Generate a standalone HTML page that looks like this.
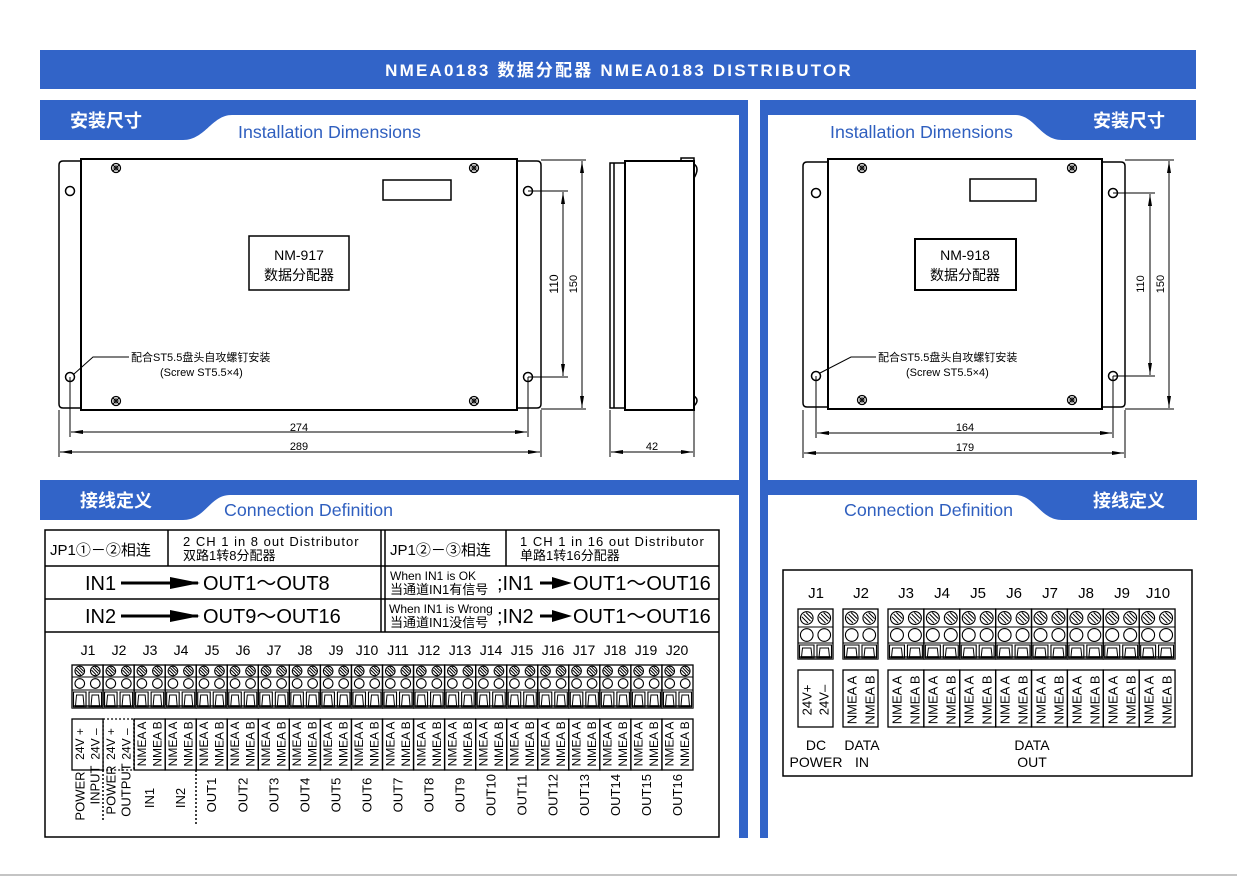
<!DOCTYPE html>
<html><head><meta charset="utf-8">
<style>
html,body{margin:0;padding:0;background:#fff;}
svg{display:block;font-family:"Liberation Sans","Noto Sans CJK SC",sans-serif;}
.w{fill:#fff;font-weight:bold;}
.bl{fill:#2f5fbf;}
.r{text-anchor:middle;dominant-baseline:central;}
.t12{font-size:12px;}
.ln{stroke:#000;fill:none;}
</style></head><body>
<svg id="s" width="1237" height="877" viewBox="0 0 1237 877" xmlns="http://www.w3.org/2000/svg">
<defs>
<marker id="ar" markerWidth="12" markerHeight="6" refX="12" refY="3" orient="auto-start-reverse" markerUnits="userSpaceOnUse"><path d="M0,1 L12,3 L0,5 Z" fill="#000"/></marker>
</defs>
<!-- header -->
<rect x="40" y="50" width="1156" height="39" fill="#3264c8"/>
<text x="619" y="76" class="w" font-size="17" text-anchor="middle" letter-spacing="2.2">NMEA0183 数据分配器  NMEA0183 DISTRIBUTOR</text>

<!-- frames -->
<g fill="#3264c8">
<path d="M40,100 H748 V115 H232 C212,115 205,140 183,140 H40 Z"/>
<rect x="739" y="100" width="9" height="738"/>
<path d="M760,100 H1196 V140 H1062 C1040,140 1035,115 1015,115 H760 Z"/>
<rect x="760" y="100" width="8" height="738"/>
<path d="M40,480 H748 V495 H230 C210,495 205,520 183,520 H40 Z"/>
<path d="M760,480 H1197 V520 H1062 C1040,520 1035,495 1015,495 H760 Z"/>
</g>
<text x="70" y="127" class="w" font-size="18">安装尺寸</text>
<text x="1093" y="127" class="w" font-size="18">安装尺寸</text>
<text x="80" y="507" class="w" font-size="18">接线定义</text>
<text x="1093" y="507" class="w" font-size="18">接线定义</text>
<text x="238" y="138" class="bl" font-size="17.8">Installation  Dimensions</text>
<text x="830" y="138" class="bl" font-size="17.8">Installation  Dimensions</text>
<text x="224" y="516" class="bl" font-size="17.8">Connection  Definition</text>
<text x="844" y="516" class="bl" font-size="17.8">Connection  Definition</text>

<!-- left device -->
<g class="ln" stroke-width="1.5">
<path d="M81,161 H63 Q59,161 59,165 V404 Q59,408 63,408 H81"/>
<rect x="81" y="159" width="436" height="251" stroke-width="2"/>
<path d="M517,161 H537 Q541,161 541,165 V404 Q541,408 537,408 H517"/>
<rect x="383" y="180" width="68" height="20"/>
<rect x="249" y="236" width="100" height="54"/>
<circle cx="70" cy="191" r="4.5"/><circle cx="70" cy="377" r="4.5"/>
<circle cx="528" cy="191" r="4.5"/><circle cx="528" cy="377" r="4.5"/>
</g>
<text x="299" y="260" text-anchor="middle" font-size="14">NM-917</text>
<text x="299" y="280" text-anchor="middle" font-size="14">数据分配器</text>
<g class="ln" stroke-width="1">
<line x1="528" y1="191" x2="568" y2="191"/><line x1="528" y1="377" x2="568" y2="377"/>
<line x1="563" y1="192" x2="563" y2="376" marker-start="url(#ar)" marker-end="url(#ar)"/>
<line x1="541" y1="160" x2="586" y2="160"/><line x1="541" y1="409" x2="586" y2="409"/>
<line x1="582" y1="161" x2="582" y2="408" marker-start="url(#ar)" marker-end="url(#ar)"/>
<line x1="70" y1="377" x2="70" y2="437"/><line x1="528" y1="377" x2="528" y2="437"/>
<line x1="71" y1="432" x2="527" y2="432" marker-start="url(#ar)" marker-end="url(#ar)"/>
<line x1="59" y1="410" x2="59" y2="457"/><line x1="541" y1="410" x2="541" y2="457"/>
<line x1="60" y1="452" x2="540" y2="452" marker-start="url(#ar)" marker-end="url(#ar)"/>
<path d="M74,374 L93,357 H129"/>
</g>
<text x="558" y="284" class="t12" font-size="11" transform="rotate(-90 558 284)" text-anchor="middle">110</text>
<text x="577" y="284" font-size="11" transform="rotate(-90 577 284)" text-anchor="middle">150</text>
<text x="299" y="431" font-size="11" text-anchor="middle">274</text>
<text x="299" y="450" font-size="11" text-anchor="middle">289</text>
<text x="131" y="361" font-size="11">配合ST5.5盘头自攻螺钉安装</text>
<text x="160" y="376" font-size="11">(Screw ST5.5×4)</text>

<!-- side view -->
<g class="ln" stroke-width="1.5">
<rect x="610" y="163" width="15" height="245"/>
<line x1="614" y1="163" x2="614" y2="408"/>
<rect x="625" y="161" width="69" height="249" stroke-width="2"/>
<path d="M681,161 V158 H694 V161"/>
<path d="M694,164 Q700,168 694,178"/><path d="M694,396 Q700,400 694,406"/>
</g>
<g class="ln">
<line x1="610" y1="410" x2="610" y2="457"/><line x1="694" y1="410" x2="694" y2="457"/>
<line x1="611" y1="452" x2="693" y2="452" marker-start="url(#ar)" marker-end="url(#ar)"/>
</g>
<text x="652" y="450" font-size="11" text-anchor="middle">42</text>

<!-- right device -->
<g class="ln" stroke-width="1.5">
<path d="M828,162 H807 Q803,162 803,166 V403 Q803,407 807,407 H828"/>
<rect x="828" y="159" width="274" height="250" stroke-width="2"/>
<path d="M1102,162 H1121 Q1125,162 1125,166 V403 Q1125,407 1121,407 H1102"/>
<rect x="970" y="179" width="66" height="22"/>
<rect x="915" y="239" width="101" height="51" stroke-width="2"/>
<circle cx="816" cy="193" r="4.5"/><circle cx="816" cy="376" r="4.5"/>
<circle cx="1113" cy="193" r="4.5"/><circle cx="1113" cy="376" r="4.5"/>
</g>
<text x="965" y="260" text-anchor="middle" font-size="14">NM-918</text>
<text x="965" y="280" text-anchor="middle" font-size="14">数据分配器</text>
<g class="ln" stroke-width="1">
<line x1="1113" y1="193" x2="1155" y2="193"/><line x1="1113" y1="376" x2="1155" y2="376"/>
<line x1="1150" y1="194" x2="1150" y2="375" marker-start="url(#ar)" marker-end="url(#ar)"/>
<line x1="1125" y1="160" x2="1174" y2="160"/><line x1="1125" y1="409" x2="1174" y2="409"/>
<line x1="1169" y1="161" x2="1169" y2="408" marker-start="url(#ar)" marker-end="url(#ar)"/>
<line x1="816" y1="376" x2="816" y2="438"/><line x1="1113" y1="376" x2="1113" y2="438"/>
<line x1="817" y1="433" x2="1112" y2="433" marker-start="url(#ar)" marker-end="url(#ar)"/>
<line x1="803" y1="410" x2="803" y2="458"/><line x1="1125" y1="410" x2="1125" y2="458"/>
<line x1="804" y1="453" x2="1124" y2="453" marker-start="url(#ar)" marker-end="url(#ar)"/>
<path d="M820,373 L851,357 H876"/>
</g>
<text x="1144" y="284" font-size="11" transform="rotate(-90 1144 284)" text-anchor="middle">110</text>
<text x="1164" y="284" font-size="11" transform="rotate(-90 1164 284)" text-anchor="middle">150</text>
<text x="965" y="431" font-size="11" text-anchor="middle">164</text>
<text x="965" y="451" font-size="11" text-anchor="middle">179</text>
<text x="878" y="361" font-size="11">配合ST5.5盘头自攻螺钉安装</text>
<text x="906" y="376" font-size="11">(Screw ST5.5×4)</text>

<g id="screws"></g>

<!-- left connection table -->
<g class="ln" stroke-width="1.5">
<rect x="45" y="530" width="674" height="307"/>
<line x1="45" y1="566" x2="719" y2="566"/>
<line x1="45" y1="599" x2="719" y2="599"/>
<line x1="45" y1="632" x2="719" y2="632"/>
<line x1="381" y1="530" x2="381" y2="632"/><line x1="385" y1="530" x2="385" y2="632"/>
<line x1="168" y1="530" x2="168" y2="566"/>
<line x1="506" y1="530" x2="506" y2="566"/>
</g>
<text x="50" y="555" font-size="15">JP1①－②相连</text>
<text x="183" y="546" font-size="13" letter-spacing="1">2 CH  1  in  8  out  Distributor</text>
<text x="183" y="560" font-size="13">双路1转8分配器</text>
<text x="85" y="590" font-size="20">IN1</text>
<text x="203" y="590" font-size="20">OUT1～OUT8</text>
<text x="85" y="623" font-size="20">IN2</text>
<text x="203" y="623" font-size="20">OUT9～OUT16</text>
<line x1="121" y1="583" x2="198" y2="583" stroke="#000" stroke-width="3"/>
<path d="M170,577 L200,583 L170,589 Z"/>
<line x1="121" y1="616" x2="198" y2="616" stroke="#000" stroke-width="3"/>
<path d="M170,610 L200,616 L170,622 Z"/>
<text x="390" y="555" font-size="15">JP1②－③相连</text>
<text x="520" y="546" font-size="13" letter-spacing="1">1 CH  1  in  16  out  Distributor</text>
<text x="520" y="560" font-size="13">单路1转16分配器</text>
<text x="390" y="580" font-size="12">When  IN1  is  OK</text>
<text x="390" y="594" font-size="13">当通道IN1有信号</text>
<text x="497" y="590" font-size="20">;IN1</text>
<text x="573" y="590" font-size="20">OUT1～OUT16</text>
<line x1="540" y1="583" x2="562" y2="583" stroke="#000" stroke-width="3"/>
<path d="M552,577 L572,583 L552,589 Z"/>
<text x="389" y="613" font-size="12">When IN1 is Wrong</text>
<text x="390" y="627" font-size="13">当通道IN1没信号</text>
<text x="497" y="623" font-size="20">;IN2</text>
<text x="573" y="623" font-size="20">OUT1～OUT16</text>
<line x1="540" y1="616" x2="562" y2="616" stroke="#000" stroke-width="3"/>
<path d="M552,610 L572,616 L552,622 Z"/>

<g font-size="14" text-anchor="middle">
<text x="88" y="655">J1</text><text x="119" y="655">J2</text><text x="150" y="655">J3</text><text x="181" y="655">J4</text><text x="212" y="655">J5</text><text x="243" y="655">J6</text><text x="274" y="655">J7</text><text x="305" y="655">J8</text><text x="336" y="655">J9</text><text x="367" y="655">J10</text><text x="398" y="655">J11</text><text x="429" y="655">J12</text><text x="460" y="655">J13</text><text x="491" y="655">J14</text><text x="522" y="655">J15</text><text x="553" y="655">J16</text><text x="584" y="655">J17</text><text x="615" y="655">J18</text><text x="646" y="655">J19</text><text x="677" y="655">J20</text>
</g>
<g id="lt"></g>
<g font-size="12" class="r" id="llab">
<text transform="translate(79.8,744) rotate(-90)">24V +</text>
<text transform="translate(95.3,744) rotate(-90)">24V –</text>
<text transform="translate(110.8,744) rotate(-90)">24V +</text>
<text transform="translate(126.3,744) rotate(-90)">24V –</text>
<text transform="translate(141.9,744) rotate(-90)">NMEA A</text><text transform="translate(157.4,744) rotate(-90)">NMEA B</text>
<text transform="translate(172.9,744) rotate(-90)">NMEA A</text><text transform="translate(188.4,744) rotate(-90)">NMEA B</text>
<text transform="translate(204.0,744) rotate(-90)">NMEA A</text><text transform="translate(219.5,744) rotate(-90)">NMEA B</text>
<text transform="translate(235.0,744) rotate(-90)">NMEA A</text><text transform="translate(250.5,744) rotate(-90)">NMEA B</text>
<text transform="translate(266.1,744) rotate(-90)">NMEA A</text><text transform="translate(281.6,744) rotate(-90)">NMEA B</text>
<text transform="translate(297.1,744) rotate(-90)">NMEA A</text><text transform="translate(312.6,744) rotate(-90)">NMEA B</text>
<text transform="translate(328.1,744) rotate(-90)">NMEA A</text><text transform="translate(343.7,744) rotate(-90)">NMEA B</text>
<text transform="translate(359.2,744) rotate(-90)">NMEA A</text><text transform="translate(374.7,744) rotate(-90)">NMEA B</text>
<text transform="translate(390.3,744) rotate(-90)">NMEA A</text><text transform="translate(405.8,744) rotate(-90)">NMEA B</text>
<text transform="translate(421.3,744) rotate(-90)">NMEA A</text><text transform="translate(436.8,744) rotate(-90)">NMEA B</text>
<text transform="translate(452.3,744) rotate(-90)">NMEA A</text><text transform="translate(467.9,744) rotate(-90)">NMEA B</text>
<text transform="translate(483.4,744) rotate(-90)">NMEA A</text><text transform="translate(498.9,744) rotate(-90)">NMEA B</text>
<text transform="translate(514.4,744) rotate(-90)">NMEA A</text><text transform="translate(530.0,744) rotate(-90)">NMEA B</text>
<text transform="translate(545.5,744) rotate(-90)">NMEA A</text><text transform="translate(561.0,744) rotate(-90)">NMEA B</text>
<text transform="translate(576.5,744) rotate(-90)">NMEA A</text><text transform="translate(592.1,744) rotate(-90)">NMEA B</text>
<text transform="translate(607.6,744) rotate(-90)">NMEA A</text><text transform="translate(623.1,744) rotate(-90)">NMEA B</text>
<text transform="translate(638.6,744) rotate(-90)">NMEA A</text><text transform="translate(654.1,744) rotate(-90)">NMEA B</text>
<text transform="translate(669.7,744) rotate(-90)">NMEA A</text><text transform="translate(685.2,744) rotate(-90)">NMEA B</text>
</g>
<g font-size="13" class="r">
<text transform="translate(80,796) rotate(-90)">POWER</text>
<text transform="translate(95,785) rotate(-90)">INPUT</text>
<text transform="translate(111,790) rotate(-90)">POWER</text>
<text transform="translate(126,790) rotate(-90)">OUTPUT</text>
<text transform="translate(149.6,798) rotate(-90)">IN1</text>
<text transform="translate(180.7,798) rotate(-90)">IN2</text>
<text transform="translate(211.7,795) rotate(-90)">OUT1</text>
<text transform="translate(242.8,795) rotate(-90)">OUT2</text>
<text transform="translate(273.8,795) rotate(-90)">OUT3</text>
<text transform="translate(304.8,795) rotate(-90)">OUT4</text>
<text transform="translate(335.9,795) rotate(-90)">OUT5</text>
<text transform="translate(366.9,795) rotate(-90)">OUT6</text>
<text transform="translate(398.0,795) rotate(-90)">OUT7</text>
<text transform="translate(429.0,795) rotate(-90)">OUT8</text>
<text transform="translate(460.1,795) rotate(-90)">OUT9</text>
<text transform="translate(491.1,795) rotate(-90)">OUT10</text>
<text transform="translate(522.2,795) rotate(-90)">OUT11</text>
<text transform="translate(553.2,795) rotate(-90)">OUT12</text>
<text transform="translate(584.3,795) rotate(-90)">OUT13</text>
<text transform="translate(615.3,795) rotate(-90)">OUT14</text>
<text transform="translate(646.4,795) rotate(-90)">OUT15</text>
<text transform="translate(677.4,795) rotate(-90)">OUT16</text>
</g>
<g stroke="#000" stroke-width="1.5" stroke-dasharray="2,2">
<line x1="103" y1="770" x2="103" y2="822"/>
<line x1="134" y1="719" x2="134" y2="770"/>
<line x1="196" y1="770" x2="196" y2="825"/>
</g>

<!-- right connection table -->
<rect x="783" y="570" width="409" height="206" class="ln" stroke-width="1.5"/>
<g font-size="15" text-anchor="middle">
<text x="816" y="598">J1</text><text x="861" y="598">J2</text><text x="906" y="598">J3</text><text x="942" y="598">J4</text><text x="978" y="598">J5</text><text x="1014" y="598">J6</text><text x="1050" y="598">J7</text><text x="1086" y="598">J8</text><text x="1122" y="598">J9</text><text x="1158" y="598">J10</text>
</g>
<g id="rt"></g>
<g font-size="13" class="r">
<text transform="translate(807,700) rotate(-90)">24V+</text>
<text transform="translate(824,700) rotate(-90)">24V–</text>
<text transform="translate(852,700) rotate(-90)">NMEA A</text><text transform="translate(870,700) rotate(-90)">NMEA B</text>
<text transform="translate(897,700) rotate(-90)">NMEA A</text><text transform="translate(915,700) rotate(-90)">NMEA B</text>
<text transform="translate(933,700) rotate(-90)">NMEA A</text><text transform="translate(951,700) rotate(-90)">NMEA B</text>
<text transform="translate(969,700) rotate(-90)">NMEA A</text><text transform="translate(987,700) rotate(-90)">NMEA B</text>
<text transform="translate(1005,700) rotate(-90)">NMEA A</text><text transform="translate(1023,700) rotate(-90)">NMEA B</text>
<text transform="translate(1041,700) rotate(-90)">NMEA A</text><text transform="translate(1059,700) rotate(-90)">NMEA B</text>
<text transform="translate(1077,700) rotate(-90)">NMEA A</text><text transform="translate(1095,700) rotate(-90)">NMEA B</text>
<text transform="translate(1113,700) rotate(-90)">NMEA A</text><text transform="translate(1131,700) rotate(-90)">NMEA B</text>
<text transform="translate(1149,700) rotate(-90)">NMEA A</text><text transform="translate(1167,700) rotate(-90)">NMEA B</text>
</g>
<g font-size="14" text-anchor="middle">
<text x="816" y="750">DC</text><text x="816" y="767">POWER</text>
<text x="862" y="750">DATA</text><text x="862" y="767">IN</text>
<text x="1032" y="750">DATA</text><text x="1032" y="767">OUT</text>
</g>
<line x1="0" y1="875" x2="1237" y2="875" stroke="#888" stroke-width="1"/>
</svg>
<script>
var NS="http://www.w3.org/2000/svg";
function el(p,t,a){var e=document.createElementNS(NS,t);for(var k in a)e.setAttribute(k,a[k]);p.appendChild(e);return e;}
var sg=document.getElementById("screws");
[[116,168],[116,401],[474,168],[474,401],[862,168],[862,400],[1072,168],[1072,400]].forEach(function(c){
 el(sg,"circle",{cx:c[0],cy:c[1],r:4.5,fill:"none",stroke:"#000","stroke-width":1.3});
 el(sg,"circle",{cx:c[0],cy:c[1],r:2,fill:"none",stroke:"#000","stroke-width":1});
 el(sg,"path",{d:"M"+(c[0]-3)+","+(c[1]-3)+"L"+(c[0]+3)+","+(c[1]+3)+"M"+(c[0]+3)+","+(c[1]-3)+"L"+(c[0]-3)+","+(c[1]+3),stroke:"#000","stroke-width":1});
});
function term(g,cx,y0,y1,y2,y3,w){
 var ys=(y0+y1)/2, yc=(y1+y2)/2, r=Math.min(w*0.36,(y1-y0)*0.4);
 el(g,"circle",{cx:cx,cy:ys,r:r,fill:"none",stroke:"#000","stroke-width":1.1});
 el(g,"path",{d:"M"+(cx-r*0.8)+","+(ys-r*0.2)+"L"+(cx+r*0.2)+","+(ys+r*0.8)+"M"+(cx-r*0.5)+","+(ys-r*0.6)+"L"+(cx+r*0.6)+","+(ys+r*0.5)+"M"+(cx-r*0.1)+","+(ys-r*0.85)+"L"+(cx+r*0.85)+","+(ys+r*0.1),stroke:"#000","stroke-width":1});
 el(g,"circle",{cx:cx,cy:yc,r:r,fill:"none",stroke:"#000","stroke-width":1.1});
 var hw=w/2-1.5;
 el(g,"path",{d:"M"+(cx-hw)+","+(y3-1)+"L"+(cx-hw)+","+(y2+2)+"L"+(cx+hw)+","+(y2+2)+"L"+(cx+hw)+","+(y3-1)+"Z",fill:"none",stroke:"#000","stroke-width":1.1});
 el(g,"path",{d:"M"+(cx-hw+2)+","+(y3-2)+"L"+(cx-hw+3)+","+(y2+5)+"L"+(cx+hw-3)+","+(y2+5)+"L"+(cx+hw-2)+","+(y3-2)+"Z",fill:"none",stroke:"#000","stroke-width":1});
}
function block(g,x,n,p,y0,y1,y2,y3,ly0,ly1,box){
 el(g,"rect",{x:x,y:y0,width:n*p,height:y3-y0,fill:"none",stroke:"#000","stroke-width":1.3});
 el(g,"line",{x1:x,x2:x+n*p,y1:y1,y2:y1,stroke:"#000","stroke-width":1});
 el(g,"line",{x1:x,x2:x+n*p,y1:y2,y2:y2,stroke:"#000","stroke-width":1});
 el(g,"rect",{x:x,y:y3-3,width:n*p,height:3,fill:"#555"});
 for(var i=0;i<n;i++) term(g,x+p*(i+0.5),y0,y1,y2,y3,p);
 if(box) el(g,"rect",{x:x,y:ly0,width:n*p,height:ly1-ly0,fill:"none",stroke:"#000","stroke-width":1.3});
}
var lt=document.getElementById("lt"),P=15.525;
for(var j=0;j<20;j++){block(lt,72+2*P*j,2,P,665,677,690,708,719,770,!(j==1));}
el(lt,"rect",{x:72+2*P,y:719,width:2*P,height:51,fill:"none",stroke:"#000","stroke-width":1.3,"stroke-dasharray":"2,2"});
var rt=document.getElementById("rt");
block(rt,798,2,17.5,609,627,643,659,670,727,true);
block(rt,843,2,17.5,609,627,643,659,670,727,true);
var Q=17.94;
for(var j=0;j<8;j++){block(rt,888+2*Q*j,2,Q,609,627,643,659,670,727,true);}
</script>
</body></html>
